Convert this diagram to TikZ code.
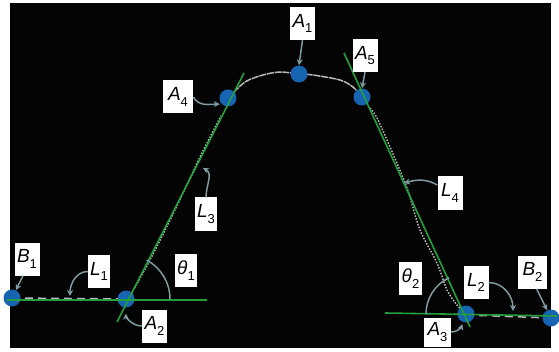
\documentclass[tikz,border=0pt]{standalone}
\usepackage{fontspec}
\setmainfont{Liberation Sans}
\usepackage{xcolor}
\usepackage{tikz}
\usetikzlibrary{arrows.meta, positioning, calc}

\definecolor{bgBlack}{RGB}{4,4,4}
\definecolor{lineGreen}{RGB}{35,160,60}
\definecolor{dotBlue}{RGB}{22,100,178}
\definecolor{arrowGray}{RGB}{125,155,160}
\definecolor{trajGray}{RGB}{185,185,185}

\newcommand{\varlab}[2]{\textit{#1}\raisebox{-0.55ex}{\fontsize{13}{13}\selectfont #2}}

\begin{document}
\begin{tikzpicture}[
    x=1pt, y=1pt,
    every node/.style={font=\fontsize{19}{19}\selectfont},
    lbl/.style={rectangle, fill=white, inner sep=1pt, minimum width=25pt, minimum height=33pt},
    dot/.style={circle, fill=dotBlue, inner sep=0pt, minimum size=17pt},
    tangent/.style={draw=lineGreen, line width=1.6pt},
    traj/.style={draw=trajGray, line width=1.5pt},
    arrow/.style={-{Stealth[length=6pt, width=6pt]}, line width=1.5pt, draw=arrowGray},
    anglearc/.style={draw=arrowGray, line width=1.5pt}
]

\useasboundingbox (0,0) rectangle (559,351);
\fill[bgBlack] (10,3) rectangle (551,348);

% === Measured trajectory (gray) ===
\draw[traj, dash pattern=on 8pt off 5pt] (12,53) -- (126,52);
\draw[traj, dash pattern=on 1.5pt off 1.5pt] plot[smooth] coordinates
    {(130,55) (150,91) (175,141) (200,194) (221,235)};
\draw[traj, dash pattern=on 7pt off 0.8pt] plot[smooth] coordinates
    {(228,253) (245,269) (263,276) (280,279) (299,277) (313,276) (340,271) (353,264) (362,254)};
\draw[traj, dash pattern=on 1.5pt off 1.5pt] plot[smooth] coordinates
    {(370,243) (377,233) (390,204) (407,163) (420,121) (437,88) (447,61) (457,46) (466,37)};
\draw[traj, dash pattern=on 8pt off 5pt] (466,36) -- (551,33);

% === Points on the profile ===
\node[dot] (B1) at (12,53) {};
\node[dot] (A2) at (126,52) {};
\node[dot] (A4) at (228,253) {};
\node[dot] (A1) at (299,277) {};
\node[dot] (A5) at (362,254) {};
\node[dot] (A3) at (466,37) {};
\node[dot] (B2) at (551,33) {};

% === Fitted lines (green) ===
\coordinate (gL1a) at (7,51);
\coordinate (gL1b) at (207,51);
\coordinate (gL3a) at (117,29);
\coordinate (gL3b) at (244,278);
\coordinate (gL4a) at (344,298);
\coordinate (gL4b) at (470,24);
\coordinate (gL2a) at (385,38);
\coordinate (gL2b) at (557,35);

\draw[tangent] (gL1a) -- (gL1b);
\draw[tangent] (gL3a) -- (gL3b);
\draw[tangent] (gL4a) -- (gL4b);
\draw[tangent] (gL2a) -- (gL2b);

% Angles
\draw[anglearc] ([shift={(0:44)}]A2.center) arc[start angle=0, end angle=62, radius=44];
\draw[anglearc] ([shift={(180:40)}]A3.center) arc[start angle=180, end angle=115, radius=40];

% === Labels ===
\node[lbl] (lA1) at (302.5,327.5) {\varlab{A}{1}};
\node[lbl] (lA5) at (365,295.5) {\varlab{A}{5}};
\node[lbl, minimum width=30pt] (lA4) at (178,254) {\varlab{A}{4}};
\node[lbl, minimum width=22pt] (lL3) at (206,137) {\varlab{L}{3}};
\node[lbl, minimum width=22pt] (lL1) at (99,79.5) {\varlab{L}{1}};
\node[lbl] (lB1) at (27,92) {\varlab{B}{1}};
\node[lbl, minimum width=22pt] (lt1) at (186,80.5) {\varlab{θ}{1}};
\node[lbl] (lA2) at (154.5,25) {\varlab{A}{2}};
\node[lbl] (lL4) at (450,158) {\varlab{L}{4}};
\node[lbl, minimum width=23pt] (lt2) at (410.5,72.5) {\varlab{θ}{2}};
\node[lbl] (lL2) at (476,68.5) {\varlab{L}{2}};
\node[lbl, minimum width=29pt] (lB2) at (532.5,79) {\varlab{B}{2}};
\node[lbl, minimum width=27pt, minimum height=29pt] (lA3) at (437.5,19) {\varlab{A}{3}};

% free ends on the lines
\coordinate (pL3) at (203,183);
\coordinate (pL1) at (70,55);
\coordinate (pL4) at (404,168);
\coordinate (pL2) at (513,40);

% === Pointers ===
\draw[arrow] (lA1.south) -- (A1.north);
\draw[arrow] (lA5.south) -- (A5.north);
\draw[arrow, shorten >=2pt] (lA4.east) to[out=-60, in=180] (A4.south west);
\draw[arrow] (lL3.north) to[out=90, in=-30] (pL3);
\draw[arrow] (lL1.west) to[out=180, in=90] (pL1);
\draw[arrow] ([xshift=-4pt]lB1.south) -- (B1);
\draw[arrow, shorten >=6pt] (lA2.west) to[out=180, in=-90] (A2);
\draw[arrow] ([yshift=8pt]lL4.west) to[out=150, in=15] (pL4);
\draw[arrow] (lL2.east) to[out=0, in=90] (pL2);
\draw[arrow] ([xshift=4pt]lB2.south) -- (B2);
\draw[arrow, shorten >=2pt] (lA3.east) to[out=0, in=-110] (A3);

\end{tikzpicture}
\end{document}
